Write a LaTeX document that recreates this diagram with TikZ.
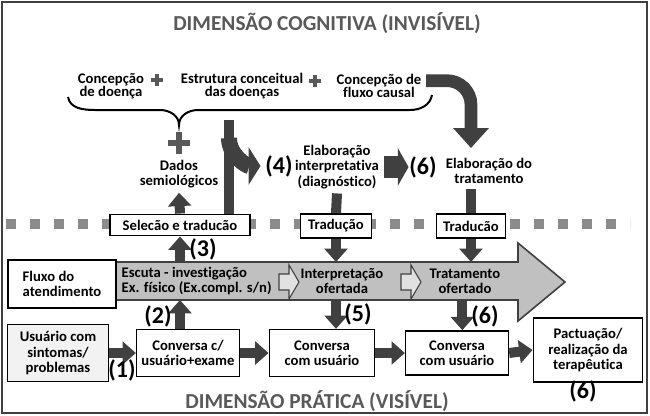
\documentclass[tikz,border=0pt]{standalone}
\usepackage{fontspec}
\setmainfont{Carlito}[Ligatures=NoCommon]
\usetikzlibrary{arrows.meta}
\definecolor{darkarrow}{RGB}{64,64,64}
\definecolor{titlegray}{RGB}{89,89,89}
\definecolor{dotgray}{RGB}{140,140,140}
\definecolor{bandgray}{RGB}{192,192,192}
\definecolor{lightfill}{RGB}{242,242,242}
\definecolor{hollowfill}{RGB}{225,225,225}

\begin{document}
\begin{tikzpicture}[x=0.75pt, y=-0.75pt,
  every node/.style={font=\bfseries\fontsize{11}{11.5}\selectfont, align=center},
  box/.style={draw=black, line width=1.2pt, fill=white, inner sep=2pt},
  num/.style={font=\bfseries\fontsize{18}{18}\selectfont, inner sep=0.5pt},
  dimtitle/.style={font=\bfseries\fontsize{16}{16}\selectfont, text=titlegray},
  toptext/.style={font=\bfseries\fontsize{11}{10}\selectfont},
  fat/.style={draw=darkarrow, line width=7.5pt, -{Triangle[width=17pt,length=10pt]}},
  fatbar/.style={draw=darkarrow, line width=7.5pt},
  branch/.style={draw=darkarrow, line width=12pt, -{Triangle[width=28pt,length=9pt]}},
  stub/.style={draw=darkarrow, line width=16pt, -{Triangle[width=28pt,length=8pt]}},
  curvy/.style={draw=darkarrow, line width=9.5pt, rounded corners=18pt, -{Triangle[width=26pt,length=15pt]}},
  plusmark/.style={draw=titlegray},
  hollow/.pic={\draw[draw=darkarrow, fill=hollowfill, line width=0.8pt] (0,-8) -- (10,-8) -- (10,-17) -- (20,0) -- (10,17) -- (10,8) -- (0,8) -- cycle;}
]
\useasboundingbox (0,0) rectangle (650,415);
% Dimensao cognitiva x dimensao pratica
\draw[line width=1.2pt, draw=darkarrow] (2,2) rectangle (647,413);
\node[dimtitle] (cogtitle) at (327,23) {DIMENSÃO COGNITIVA (INVISÍVEL)};
\node[dimtitle] (pratitle) at (317,401) {DIMENSÃO PRÁTICA (VISÍVEL)};

\node[toptext] (concdoenca) at (111,86) {Concepção\\de doença};
\node[toptext] (estrutura) at (242,86) {Estrutura conceitual\\das doenças};
\node[toptext] (causal) at (379,86) {Concepção de\\fluxo causal};
\foreach \px/\py/\ps/\pw in {157/80/6/3.4pt, 315/81/6/3.4pt, 179/143/11/4pt}
  \draw[plusmark, line width=\pw] (\px-\ps,\py) -- (\px+\ps,\py) (\px,\py-\ps) -- (\px,\py+\ps);
\draw[line width=1.5pt] (68,97) to[out=-80,in=180] (95,110) -- (160,110) to[out=0,in=90] (179,125)
  to[out=90,in=180] (198,110) -- (410,110) to[out=0,in=-100] (432,95);

\node (dados) at (179,174) {Dados\\semiológicos};
\node[num] (n4) at (279,166) {(4)};
\node (diag) at (337,167) {Elaboração\\interpretativa\\(diagnóstico)};
\node[num] (n6a) at (423,167) {(6)};
\node (trat) at (489,171) {Elaboração do\\tratamento};
\coordinate (tip6) at (471,148);
\coordinate (kn) at (229,120);
\coordinate (knb) at (229,138);

% linha divisoria
\draw[dotgray, line width=7.5pt, dash pattern=on 7.5pt off 10.5pt] (6,224) -- (630,224);
\node[box, minimum width=105pt, minimum height=16pt] (selecao) at (180,225) {Selecão e traducão};
\node[box, minimum width=53pt, minimum height=18pt] (trad1) at (336,226) {Tradução};
\node[box, minimum width=52pt, minimum height=18pt] (trad2) at (471,226) {Traducão};

\draw[fatbar] (kn) -- (kn |- selecao.north);
\draw[branch, shorten >=3pt] (knb) to[out=-90,in=180] (n4.west);
\draw[stub] (diag.east) -- (n6a.west);
\draw[curvy] ([yshift=4pt]causal.east) -| (tip6);
\draw[fatbar] (diag.south) -- (trad1.north);
\draw[fatbar] (tip6 |- trat.south) -- (trad2.north);
\draw[fat] (selecao.north) -- (dados.south);

% fluxo do atendimento
\coordinate (btop) at (0,262);
\coordinate (bbot) at (0,300);
\draw[draw=darkarrow, fill=bandgray, line width=1.2pt] (116,262) -- (518,262) -- (518,243) -- (565,282)
  -- (518,321) -- (518,300) -- (116,300) -- cycle;
\node[box, minimum width=81pt, minimum height=36pt, align=left] (fluxo) at (62,284) {Fluxo do\\atendimento};
\node[anchor=west, align=left] (escuta) at (117,281) {Escuta - investigação\\Ex. físico (Ex.compl. s/n)};
\node (interp) at (342,281) {Interpretação\\ofertada};
\node (tratof) at (465,281) {Tratamento\\ofertado};
\pic at (279,282) {hollow};
\pic at (401,282) {hollow};

\draw[fat] (trad1.south) -- (trad1.south |- btop);
\draw[fat] (trad2.south) -- (trad2.south |- btop);
\draw[fat] (selecao.south |- btop) -- (selecao.south);
\node[num] (n3) at (203,249) {(3)};

% dimensao pratica
\node[box, fill=lightfill, minimum width=76pt, minimum height=43pt] (usuario) at (58,353) {Usuário com\\sintomas/\\problemas};
\node[box, minimum width=77pt, minimum height=35pt] (conv1) at (188,353) {Conversa c/\\usuário+exame};
\node[box, minimum width=79pt, minimum height=35pt] (conv2) at (322,353) {Conversa\\com usuário};
\node[box, minimum width=77pt, minimum height=33pt] (conv3) at (457,353) {Conversa\\com usuário};
\node[box, minimum width=82pt, minimum height=48pt] (pact) at (588,350) {Pactuação/\\realização da\\terapêutica};
\coordinate (c6) at ([xshift=4pt]conv3.north);

\draw[fat] (usuario.east) -- (conv1.west);
\draw[fat] (conv1.east) -- (conv2.west);
\draw[fat] (conv2.east) -- (conv3.west);
\draw[fat] (conv3.east) -- (pact.west);
\draw[fat] (selecao.south |- conv1.north) -- (selecao.south |- bbot);
\draw[fat] (trad1.south |- bbot) -- (trad1.south |- conv2.north);
\draw[fat] (c6 |- bbot) -- (c6);

\node[num] (n1) at (122,370) {(1)};
\node[num] (n2) at (158,316) {(2)};
\node[num] (n5) at (358,314) {(5)};
\node[num] (n6b) at (485,316) {(6)};
\node[num] (n6c) at (583,391) {(6)};
\end{tikzpicture}
\end{document}
